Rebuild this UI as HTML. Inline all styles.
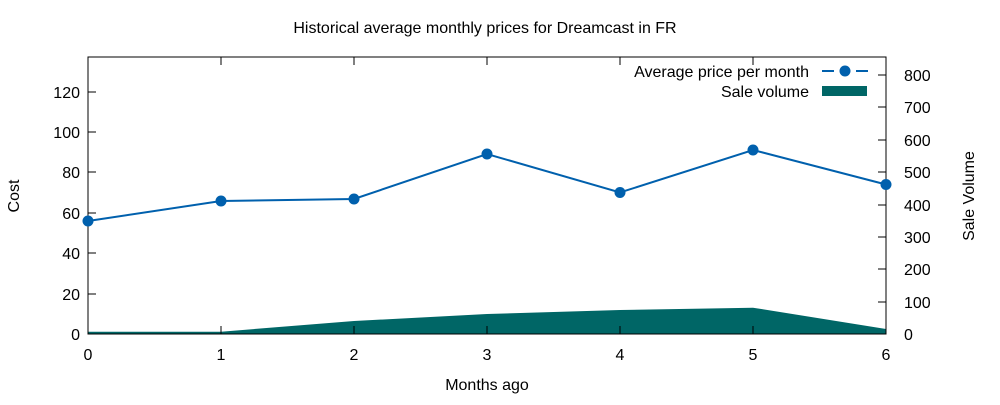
<!DOCTYPE html>
<html><head><style>body{margin:0;background:#fff}svg text{font-family:"Liberation Sans",Arial,sans-serif;font-size:16px;fill:#000}</style></head>
<body>
<svg width="1000" height="400" xmlns="http://www.w3.org/2000/svg">
<rect width="1000" height="400" fill="#fff"/>
<text x="485" y="33" text-anchor="middle" style="font-size:16px">Historical average monthly prices for Dreamcast in FR</text>
<polygon points="88,334 88,331.7 221,331.7 354,321 487,314 620,310 753,307.7 886,329 886,334" fill="#006666"/>
<g stroke="#000" stroke-width="1" fill="none">
<rect x="88" y="57" width="798" height="277"/>
<path d="M88,334h8M88,294h8M88,253h8M88,213h8M88,172h8M88,132h8M88,92h8"/>
<path d="M886,334h-8M886,302h-8M886,269h-8M886,237h-8M886,205h-8M886,172h-8M886,140h-8M886,107h-8M886,75h-8"/>
<path d="M88,334v-8M221,334v-8M354,334v-8M487,334v-8M620,334v-8M753,334v-8M886,334v-8"/>
<path d="M88,57v8M221,57v8M354,57v8M487,57v8M620,57v8M753,57v8M886,57v8"/>
</g>
<g text-anchor="end">
<text x="80" y="340">0</text><text x="80" y="300">20</text><text x="80" y="259">40</text><text x="80" y="219">60</text><text x="80" y="178">80</text><text x="80" y="138">100</text><text x="80" y="98">120</text>
</g>
<g text-anchor="start">
<text x="904" y="340">0</text><text x="904" y="308">100</text><text x="904" y="275">200</text><text x="904" y="243">300</text><text x="904" y="211">400</text><text x="904" y="178">500</text><text x="904" y="146">600</text><text x="904" y="113">700</text><text x="904" y="81">800</text>
</g>
<g text-anchor="middle">
<text x="88" y="360">0</text><text x="221" y="360">1</text><text x="354" y="360">2</text><text x="487" y="360">3</text><text x="620" y="360">4</text><text x="753" y="360">5</text><text x="886" y="360">6</text>
<text x="487" y="390">Months ago</text>
</g>
<text transform="translate(19,196) rotate(-90)" text-anchor="middle">Cost</text>
<text transform="translate(974,196) rotate(-90)" text-anchor="middle">Sale Volume</text>
<polyline points="88,221 221,201 354,199 487,154 620,192.5 753,150 886,184.5" fill="none" stroke="#0060ad" stroke-width="2"/>
<g fill="#0060ad">
<circle cx="88" cy="221" r="5.5"/><circle cx="221" cy="201" r="5.5"/><circle cx="354" cy="199" r="5.5"/><circle cx="487" cy="154" r="5.5"/><circle cx="620" cy="192.5" r="5.5"/><circle cx="753" cy="150" r="5.5"/><circle cx="886" cy="184.5" r="5.5"/>
</g>
<text x="809" y="77" text-anchor="end">Average price per month</text>
<text x="809" y="97" text-anchor="end">Sale volume</text>
<path d="M822,71h46" stroke="#0060ad" stroke-width="2" stroke-dasharray="12,8,6,8,12"/>
<circle cx="845" cy="71" r="5.5" fill="#0060ad"/>
<rect x="822" y="86" width="45" height="10" fill="#006666"/>
</svg>
</body></html>
